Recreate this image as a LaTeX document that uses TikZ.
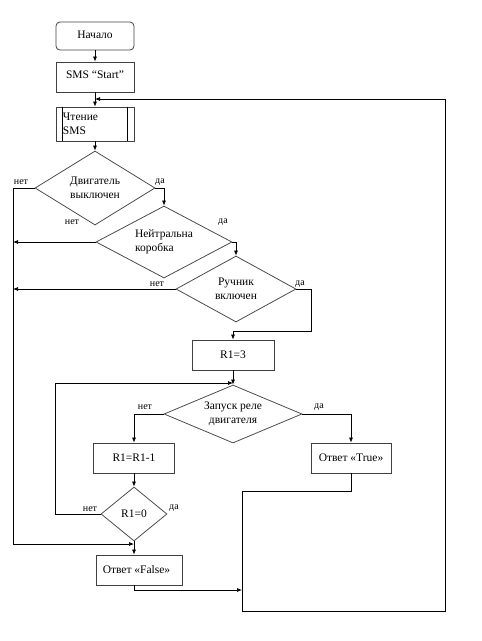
\documentclass[tikz,border=0pt]{standalone}
\usepackage{fontspec}
\setmainfont{Liberation Serif}
\usetikzlibrary{shapes.geometric,arrows.meta,calc}
\begin{document}
\begin{tikzpicture}[x=1pt,y=-1pt,
  every node/.style={font=\fontsize{11.5}{13.5}\selectfont},
  box/.style={draw=black!75,line width=0.8pt,rectangle,inner sep=0pt},
  dec/.style={draw=black!70,line width=0.8pt,diamond,inner sep=0pt,align=center},
  lbl/.style={font=\fontsize{10}{11}\selectfont,inner sep=0pt},
  ln/.style={line width=0.7pt,black},
  arr/.style={ln,-{Latex[length=5pt,width=4pt]}}]
\useasboundingbox (0,0) rectangle (482,641);
% blocks
\node[box,rounded corners=4pt,minimum width=78pt,minimum height=28pt] (start) at (95,36) {\raisebox{2pt}{Начало}};
\node[box,minimum width=78pt,minimum height=30pt] (sms) at (95,77) {\raisebox{4pt}{SMS “Start”}};
\node[box,minimum width=78pt,minimum height=34pt,text width=64pt,align=left] (read) at (95,124) {Чтение\\SMS};
\draw[ln] ([xshift=7pt]read.north west) -- ([xshift=7pt]read.south west);
\draw[ln] ([xshift=-7pt]read.north east) -- ([xshift=-7pt]read.south east);
\node[dec,minimum width=120pt,minimum height=74pt,shape aspect=1.62] (d1) at (95,188) {Двигатель\\выключен};
\node[dec,minimum width=136pt,minimum height=72pt,shape aspect=1.89,align=left] (d2) at (164,242) {Нейтральна\\коробка};
\node[dec,minimum width=120pt,minimum height=66pt,shape aspect=1.82] (d3) at (236,289) {Ручник\\включен};
\node[box,minimum width=82pt,minimum height=30pt] (r13) at (233,355) {R1=3};
\node[dec,minimum width=138pt,minimum height=58pt,shape aspect=2.38] (d4) at (233,414) {Запуск реле\\двигателя};
\node[box,minimum width=81pt,minimum height=30pt] (rr) at (134,458) {R1=R1-1};
\node[box,minimum width=80pt,minimum height=30pt] (rt) at (351,458) {Ответ «True»};
\node[dec,minimum width=66pt,minimum height=54pt,shape aspect=1.22] (d5) at (134,514) {R1=0};
\node[box,minimum width=86pt,minimum height=30pt] (rf) at (139,570) {\hspace*{-5pt}Ответ «False»};
% labels
\node[lbl] (l1) at (21,182) {нет};
\node[lbl] (l2) at (160,182) {да};
\node[lbl] (l3) at (72,222) {нет};
\node[lbl] (l4) at (223,222) {да};
\node[lbl] (l5) at (157,284) {нет};
\node[lbl] (l6) at (300,284) {да};
\node[lbl] (l7) at (145,407) {нет};
\node[lbl] (l8) at (319,407) {да};
\node[lbl] (l9) at (90,509) {нет};
\node[lbl] (l10) at (174,508) {да};
% coordinates
\coordinate (m) at (13,544);
\coordinate (c3) at (311,331);
\coordinate (lp) at (55,383);
\coordinate (ob1) at (242,491);
\coordinate (ob2) at (242,611);
\coordinate (ob3) at (445,611);
\coordinate (ob4) at (445,99);
\coordinate (fo) at (134,590);
% connectors
\draw[arr] (start) -- (sms);
\draw[arr] (sms) -- (read);
\draw[arr] (read) -- (d1.north);
\draw[arr] (d1.east) -| (d2.north);
\draw[arr] (d2.east) -| (d3.north);
\draw[arr] (d3.east) -| (c3) -| (r13.north);
\draw[arr] (r13) -- (d4.north);
\draw[arr] (d4.west) -| (rr.north);
\draw[arr] (d4.east) -| (rt.north);
\draw[arr] (rr) -- (d5.north);
\draw[arr] (d5.south) -- (d5.south |- rf.north);
\draw[arr] (d1.west) -| (m) -- (d5.south |- m);
\draw[arr] (d2.west) -- (d2.west -| m);
\draw[arr] (d3.west) -- (d3.west -| m);
\draw[arr] (d5.west) -| (lp) -- (d4.north |- lp);
\draw[arr] (d5.south |- rf.south) -- (fo) -- (fo -| ob1);
\draw[arr] (rt.south) |- (ob1) -- (ob2) -- (ob3) -- (ob4) -- (read.north |- ob4);
\end{tikzpicture}
\end{document}
